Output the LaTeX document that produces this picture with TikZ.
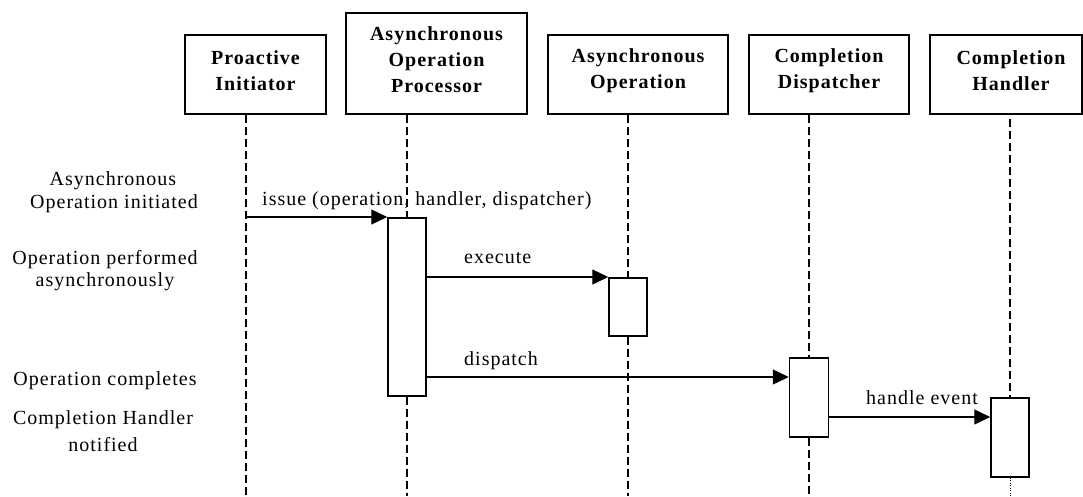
\documentclass[tikz,border=0pt]{standalone}
\usepackage{fontspec}
\setmainfont{Liberation Serif}[LetterSpace=5]
\usetikzlibrary{arrows.meta,calc}

\begin{document}
\begin{tikzpicture}[x=1pt,y=-1pt,
  head/.style={draw, line width=1.6pt, inner sep=0pt},
  headtext/.style={align=center, inner sep=0pt, yshift=4pt,
    font=\fontsize{20}{26}\selectfont\bfseries},
  act/.style={draw, fill=white, line width=1.5pt, minimum width=38pt,
    inner sep=0pt, anchor=north},
  lifeline/.style={line width=1.2pt, dash pattern=on 8pt off 4pt},
  tail/.style={line width=1pt, dash pattern=on 1pt off 1.5pt},
  msg/.style={line width=1.3pt, -{Triangle[length=16pt,width=15pt]}},
  msglabel/.style={font=\fontsize{20}{24}\selectfont, anchor=base west, inner sep=0pt},
  phase/.style={font=\fontsize{20}{24}\selectfont, anchor=base, inner sep=0pt}]

\useasboundingbox (0,0) rectangle (1083,496);

% participants
\node[head, minimum width=141pt, minimum height=79pt]  (pi)  at (255.5,74.5) {};
\node[head, minimum width=181pt, minimum height=101pt] (aop) at (436.5,63.5) {};
\node[head, minimum width=180pt, minimum height=79pt]  (ao)  at (638,74.5) {};
\node[head, minimum width=160pt, minimum height=79pt]  (cd)  at (829,74.5) {};
\node[head, minimum width=152pt, minimum height=79pt]  (ch)  at (1006,74.5) {};

\node[headtext] (pit)  at (pi.center)  {Proactive\\Initiator};
\node[headtext] (aopt) at (aop.center) {Asynchronous\\Operation\\Processor};
\node[headtext] (aot)  at (ao.center)  {Asynchronous\\Operation};
\node[headtext] (cdt)  at (cd.center)  {Completion\\Dispatcher};
\node[headtext, xshift=5pt] (cht) at (ch.center) {Completion\\Handler};

% lifeline positions
\coordinate (xpi)  at (246,0);
\coordinate (xaop) at (407,0);
\coordinate (xao)  at (628,0);
\coordinate (xcd)  at (809,0);
\coordinate (xch)  at (1010,0);
\coordinate (bot)  at (0,496);
\coordinate (dsp)  at (0,377);
\coordinate (hev)  at (0,417);

% activations
\node[act, minimum height=178pt] (a1) at (407,217) {};
\node[act, minimum height=58pt]  (a2) at (628,277) {};
\node[act, minimum height=79pt, minimum width=39pt] (a3) at (809,357) {};
\node[act, minimum height=79pt]  (a4) at (1010,397) {};

% lifelines
\draw[lifeline] (pi.south -| xpi) -- (xpi |- bot);
\draw[lifeline] (aop.south -| xaop) -- (a1.north);
\draw[lifeline] (a1.south) -- (xaop |- bot);
\draw[lifeline] (ao.south -| xao) -- (a2.north);
\draw[lifeline] (a2.south) -- (xao |- bot);
\draw[lifeline] (cd.south -| xcd) -- (a3.north);
\draw[lifeline] (a3.south) -- (xcd |- bot);
\draw[lifeline] ($(ch.south -| xch)+(0,4)$) -- (a4.north);
\draw[tail] (a4.south) -- (xch |- bot);

% messages
\draw[msg] (a1.north -| xpi) -- (a1.north west);
\draw[msg] (a2.north west -| a1.east) -- (a2.north west);
\draw[msg] (a1.east |- dsp) -- (a3.west |- dsp);
\draw[msg] (a3.east |- hev) -- (a4.west |- hev);

\node[msglabel] (m1) at (262,205) {issue (operation, handler, dispatcher)};
\node[msglabel] (m2) at (464,263) {execute};
\node[msglabel] (m3) at (464,365) {dispatch};
\node[msglabel] (m4) at (866,404) {handle event};

% phases
\node[phase] (p1a) at (113,185) {Asynchronous};
\node[phase] (p1b) at (114,208) {Operation initiated};
\node[phase] (p2a) at (105,264) {Operation performed};
\node[phase] (p2b) at (105,286) {asynchronously};
\node[phase] (p3)  at (105,385) {Operation completes};
\node[phase] (p4a) at (103,424) {Completion Handler};
\node[phase] (p4b) at (103,451) {notified};
\end{tikzpicture}
\end{document}
